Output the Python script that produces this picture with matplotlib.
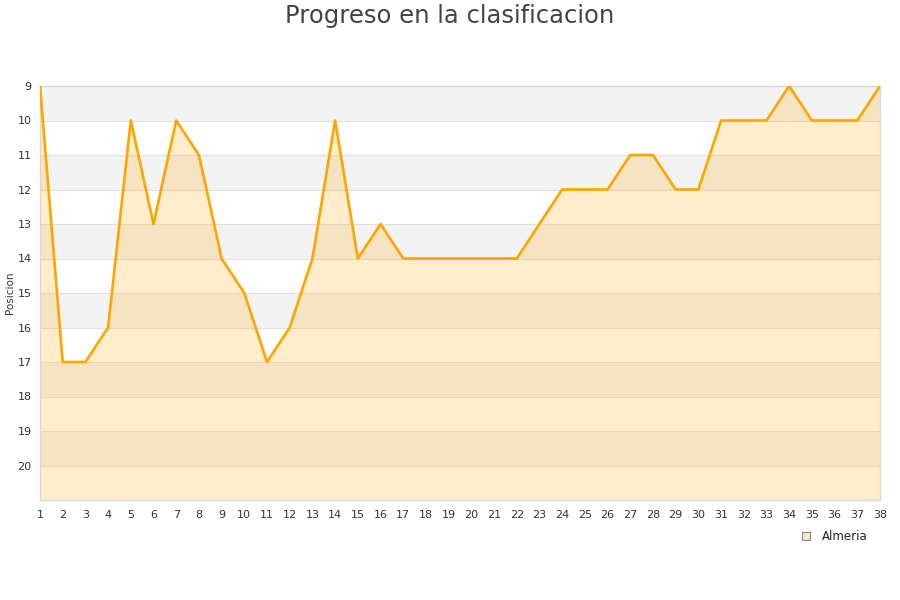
import matplotlib
matplotlib.use('Agg')
import matplotlib.pyplot as plt
from matplotlib.lines import Line2D

#---- data ----
jornadas = list(range(1, 39))
posicion = [9, 17, 17, 16, 10, 13, 10, 11, 14, 15,
            17, 16, 14, 10, 14, 13, 14, 14, 14, 14,
            14, 14, 13, 12, 12, 12, 11, 11, 12, 12,
            10, 10, 10, 9, 10, 10, 10, 9]
equipo = 'Almeria'
y_ticks = list(range(9, 21))

#---- plot ----
fig = plt.figure(figsize=(9, 6), dpi=100)
ax = fig.add_axes([40/900, 100/600, 840/900, 414/600])

# alternating bands
for k in range(9, 21, 2):
    ax.axhspan(k, k + 1, color='#f3f3f3', zorder=0, lw=0)
for k in range(9, 22):
    ax.axhline(k, color='#e0e0e0', lw=0.8, zorder=1)

ax.fill_between(jornadas, posicion, 21, color='#ffa500', alpha=0.2, lw=0, zorder=2)
ax.plot(jornadas, posicion, color='#ffa500', lw=1.9, zorder=3)

ax.set_xlim(1, 38)
ax.set_ylim(21, 9)
ax.set_xticks(jornadas)
ax.set_yticks(y_ticks)
ax.tick_params(axis='both', length=0, labelsize=8, colors='#333333', pad=7)
ax.tick_params(axis='y', pad=6)
for s in ax.spines.values():
    s.set_color('#d8d8d8')
    s.set_linewidth(1)

fig.text(10/900, 1 - 293/600, 'Posicion', rotation=90, ha='center', va='center',
         fontsize=7.5, color='#333333')
fig.text(0.5, 1 - 16/600, 'Progreso en la clasificacion', ha='center', va='center',
         fontsize=17.5, color='#444444')

handle = Line2D([], [], marker='s', linestyle='none', markersize=6,
                markerfacecolor='#fde8c2', markeredgecolor='#888888', markeredgewidth=0.8)
fig.legend([handle], [equipo], loc='center', bbox_to_anchor=(831/900, 1 - 537/600),
           frameon=False, fontsize=8.5, handletextpad=0.3, labelcolor='#222222')

fig.savefig('out.png', dpi=100)
